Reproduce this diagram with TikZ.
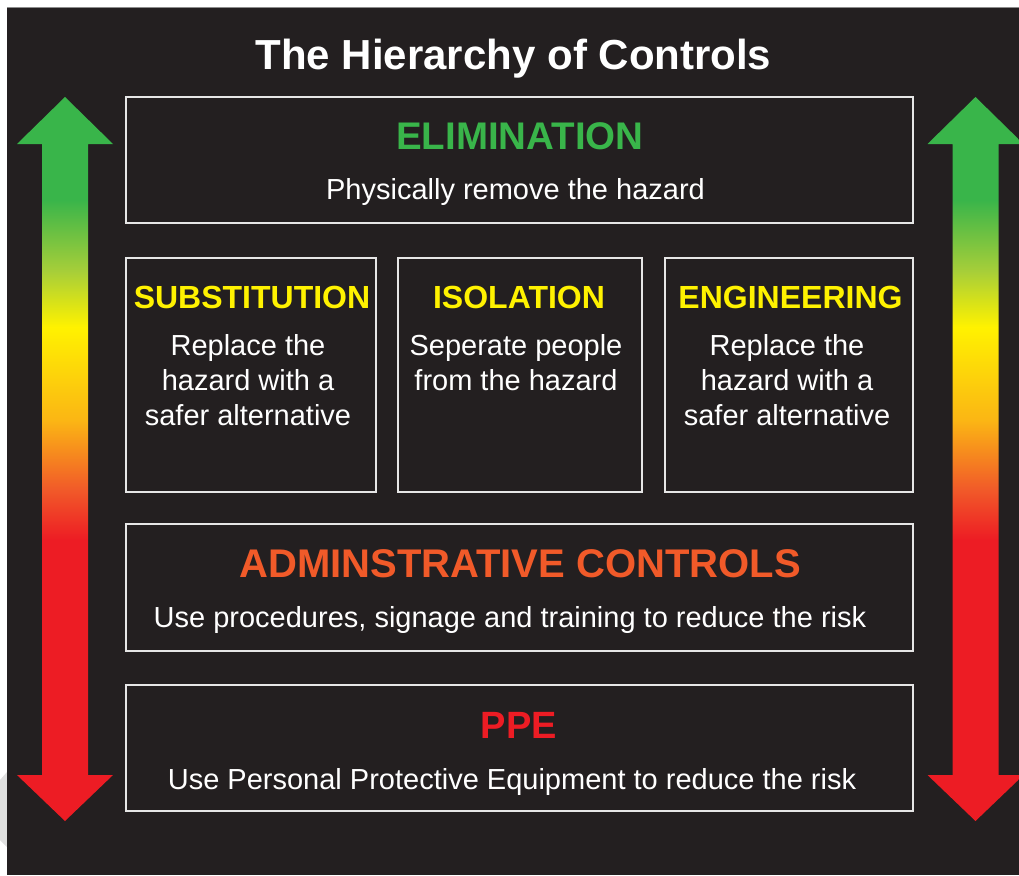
\documentclass[tikz,border=0pt]{standalone}
\usepackage{fontspec}
\setmainfont{Liberation Sans}
\usepackage{tikz}

\definecolor{bgdark}{HTML}{231F20}
\definecolor{boxline}{HTML}{E6E6E6}
\definecolor{hocgreen}{HTML}{39B54A}
\definecolor{hoclime}{HTML}{A6CE39}
\definecolor{hocyellow}{HTML}{FFF200}
\definecolor{hocamber}{HTML}{FBB614}
\definecolor{hocorange}{HTML}{F15A29}
\definecolor{hocred}{HTML}{ED1C24}

\pgfdeclareverticalshading{riskscale}{100bp}{color(0bp)=(hocred); color(44.4bp)=(hocred); color(47.9bp)=(hocorange); color(52.7bp)=(hocamber); color(59.1bp)=(hocyellow); color(63bp)=(hoclime); color(67.9bp)=(hocgreen); color(100bp)=(hocgreen)}

\begin{document}
\begin{tikzpicture}[x=1pt,y=-1pt,
  box/.style={draw=boxline, line width=1.8pt},
  title/.style={text=white, anchor=base, font=\bfseries\fontsize{42}{42}\selectfont},
  bighead/.style={anchor=base, font=\bfseries\fontsize{38}{38}\selectfont},
  smallhead/.style={anchor=base, text=hocyellow, font=\bfseries\fontsize{32}{32}\selectfont},
  desc/.style={anchor=base, text=white, align=center, font=\fontsize{29}{35}\selectfont}]
\useasboundingbox (0,0) rectangle (1019,875);
\fill[white] (0,0) rectangle (1019,875);
\fill[black!12] (0,780) -- (7,772) -- (7,847) -- (0,840) -- cycle;
\fill[bgdark] (7,7) rectangle (1019,875);
\draw[black!45, line width=0.6pt] (7,7) -- (1019,7);

% risk arrows
\foreach \cx in {65,975.5}{
\shade[shading=riskscale] (\cx,97) -- (\cx+48,144) -- (\cx+23,144) -- (\cx+23,775)
  -- (\cx+48,775) -- (\cx,821) -- (\cx-48,775) -- (\cx-23,775) -- (\cx-23,144)
  -- (\cx-48,144) -- cycle;
}

% boxes
\node[box, minimum width=787pt, minimum height=126pt] (elimbox) at (519.5,160) {};
\node[box, minimum width=250pt, minimum height=234pt] (subbox) at (251,375) {};
\node[box, minimum width=244pt, minimum height=234pt] (isobox) at (520,375) {};
\node[box, minimum width=248pt, minimum height=234pt] (engbox) at (789,375) {};
\node[box, minimum width=787pt, minimum height=127pt] (adminbox) at (519.5,587.5) {};
\node[box, minimum width=787pt, minimum height=126pt] (ppebox) at (519.5,748) {};

% texts (multi-line ones sit on their last baseline)
\node[title] (hoc) at (513.5,70) {The Hierarchy of Controls};

\node[bighead, text=hocgreen, font=\bfseries\fontsize{38.5}{38.5}\selectfont] (elim) at (520,149) {ELIMINATION};
\node[desc] (elimtxt) at (515.5,199) {Physically remove the hazard};

\node[smallhead] (sub) at (252,308) {SUBSTITUTION};
\node[desc] (subtxt) at (248,425) {Replace the\\hazard with a\\safer alternative};
\node[smallhead] (iso) at (519,308) {ISOLATION};
\node[desc] (isotxt) at (516,390) {Seperate people\\from the hazard};
\node[smallhead] (eng) at (790.5,308) {ENGINEERING};
\node[desc] (engtxt) at (787,425) {Replace the\\hazard with a\\safer alternative};

\node[bighead, text=hocorange, font=\bfseries\fontsize{40}{40}\selectfont] (admin) at (520,577) {ADMINSTRATIVE CONTROLS};
\node[desc] (admintxt) at (510,627) {Use procedures, signage and training to reduce the risk};

\node[bighead, text=hocred] (ppe) at (519,738) {PPE};
\node[desc] (ppetxt) at (512,789) {Use Personal Protective Equipment to reduce the risk};
\end{tikzpicture}
\end{document}
